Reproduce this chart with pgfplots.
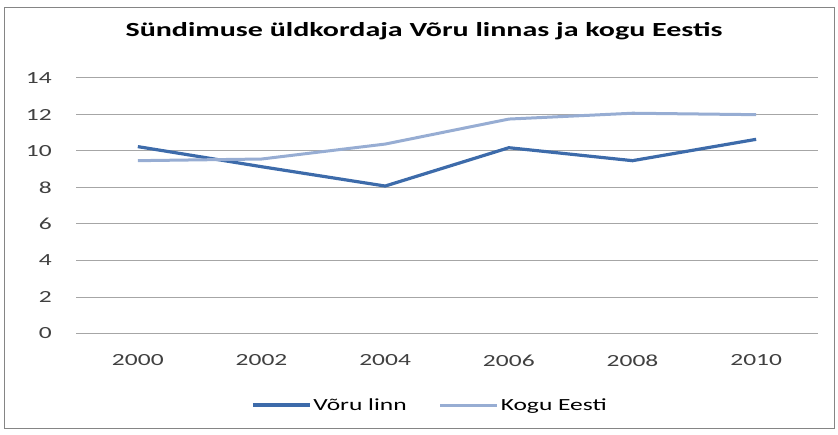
\documentclass[border=0pt]{standalone}
\usepackage{fontspec}
\setmainfont{Carlito}[FakeStretch=1.5]
\usepackage{pgfplots}
\pgfplotsset{compat=1.18}
\definecolor{voru}{HTML}{3D6BAA}
\definecolor{kogu}{HTML}{97ADD3}
\definecolor{grid}{HTML}{A6A6A6}
\definecolor{tick}{HTML}{404040}
\begin{document}
\begin{tikzpicture}[x=1pt,y=1pt]
\path (0,0) rectangle (838,434);
\draw[color=grid!80!black, line width=1pt] (4,6) rectangle (834,426);
\node[font=\fontsize{20}{22}\selectfont\bfseries, text=black] at (424,402.5) {Sündimuse üldkordaja Võru linnas ja kogu Eestis};
\begin{axis}[
  at={(76pt,100.5pt)}, anchor=south west,
  scale only axis, width=742pt, height=255.5pt,
  xmin=-0.5, xmax=5.5, ymin=0, ymax=14,
  xtick={0,1,2,3,4,5},
  xticklabels={2000,2002,2004,2006,2008,2010},
  ytick={0,2,...,14},
  ymajorgrids, grid style={color=grid, line width=1pt},
  axis line style={draw=none},
  major tick length=0pt,
  /pgf/number format/assume math mode=true,
  tick label style={font=\fontsize{17}{18}\selectfont, text=tick, inner sep=0pt},
  yticklabel style={anchor=east, xshift=-24pt},
  xticklabel style={anchor=north, yshift=-21pt},
  legend style={at={(0.477,-0.28)}, anchor=center, draw=none, fill=none,
    font=\fontsize{17}{18}\selectfont, legend columns=2,
    nodes={inner sep=2pt},
    /tikz/column 2/.style={column sep=30pt}},
  legend image code/.code={\draw[#1] (0pt,0pt) -- (57pt,0pt);},
  legend cell align=left,
]
\addplot[color=voru, line width=3.2pt] coordinates {(0,10.24) (1,9.14) (2,8.08) (3,10.18) (4,9.47) (5,10.64)};
\addlegendentry{Võru linn}
\addplot[color=kogu, line width=3pt] coordinates {(0,9.47) (1,9.56) (2,10.38) (3,11.75) (4,12.07) (5,11.99)};
\addlegendentry{Kogu Eesti}
\end{axis}
\end{tikzpicture}
\end{document}
